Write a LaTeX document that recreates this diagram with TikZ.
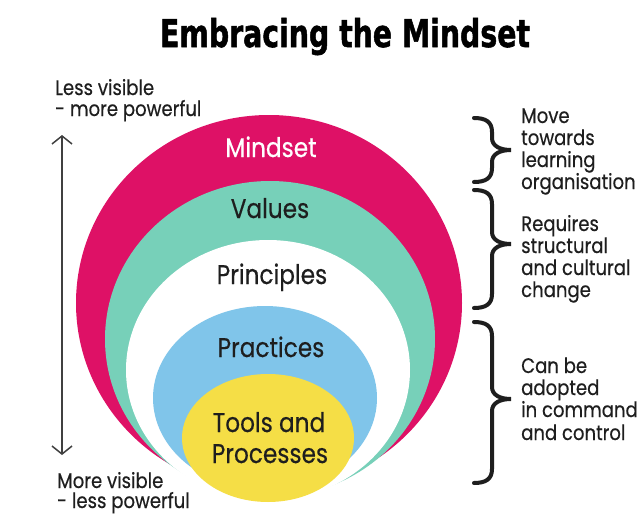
\documentclass[tikz,border=0pt]{standalone}
\usepackage{graphicx}
\usepackage{fontspec}
\setmainfont{Poppins}[FakeStretch=0.86, FakeBold=0.4]
\newfontfamily\titlefont{DejaVu Sans Condensed}[FakeBold=1.5]
\usetikzlibrary{arrows.meta}
\definecolor{cpink}{HTML}{DE1166}
\definecolor{cteal}{HTML}{77D0B9}
\definecolor{cblue}{HTML}{80C5EA}
\definecolor{cyellow}{HTML}{F5DE46}
\definecolor{ctext}{HTML}{1E1E1E}
\newcommand{\drawbrace}[3]{%
  \draw[bracestyle] (474,#1) .. controls (486,#1) and (492,#1+4) .. (492,#1+14)
    -- (492,#2-12) .. controls (492,#2-4) and (500,#2) .. (511,#2)
    .. controls (500,#2) and (492,#2+4) .. (492,#2+12)
    -- (492,#3-14) .. controls (492,#3-4) and (486,#3) .. (474,#3);}
\begin{document}
\begin{tikzpicture}[x=1pt,y=-1pt,
  big/.style={font=\fontsize{27}{31}\selectfont, text=ctext, inner sep=0pt, anchor=base},
  lbl/.style={font=\fontsize{21}{22}\selectfont, text=ctext, inner sep=0pt, anchor=base west},
  bracestyle/.style={line width=4pt, line cap=round, draw=ctext},
  arrowline/.style={line width=1.5pt, draw=ctext!85, {Straight Barb[length=8pt,width=20pt]}-{Straight Barb[length=8pt,width=20pt]}},
]
\useasboundingbox (0,0) rectangle (638,530);
\fill[white] (0,0) rectangle (638,530);
% title
\node[inner sep=0pt, anchor=base] (title) at (345,47) {\resizebox{370pt}{29pt}{\titlefont\bfseries Embracing the Mindset}};
% layers
\fill[cpink] (269,303) ellipse [x radius=193, y radius=188];
\fill[cteal] (270,339) ellipse [x radius=165, y radius=158];
\fill[white] (268,370) ellipse [x radius=142, y radius=130];
\fill[cblue] (265,398) ellipse [x radius=112, y radius=92];
\fill[cyellow] (268,438) ellipse [x radius=86, y radius=64];
% layer labels
\node[big, text=white] (mindset) at (271,157) {Mindset};
\node[big] (values) at (270,218) {Values};
\node[big] (principles) at (272,284) {Principles};
\node[big] (practices) at (271,357) {Practices};
\node[big] (tools) at (269,432) {Tools and};
\node[big] (processes) at (270,463) {Processes};
% left scale
\node[lbl] (lv1) at (55,95) {Less visible};
\node[lbl] (lv2) at (55,116) {- more powerful};
\node[lbl] (mv1) at (57,488) {More visible};
\node[lbl] (mv2) at (57,508) {- less powerful};
\coordinate (atop) at (62,135);
\coordinate (abot) at (62,455);
\draw[arrowline] (atop) -- (abot);
% braces
\drawbrace{118}{150}{182}
\drawbrace{190}{244}{308}
\drawbrace{322}{399}{483}
% right labels
\node[lbl] (r11) at (521,123) {Move};
\node[lbl] (r12) at (521,145) {towards};
\node[lbl] (r13) at (521,167) {learning};
\node[lbl] (r14) at (521,189) {organisation};
\node[lbl] (r21) at (521,231) {Requires};
\node[lbl] (r22) at (521,253) {structural};
\node[lbl] (r23) at (521,275) {and cultural};
\node[lbl] (r24) at (521,297) {change};
\node[lbl] (r31) at (521,373) {Can be};
\node[lbl] (r32) at (521,395) {adopted};
\node[lbl] (r33) at (521,417) {in command};
\node[lbl] (r34) at (521,440) {and control};
\end{tikzpicture}
\end{document}
